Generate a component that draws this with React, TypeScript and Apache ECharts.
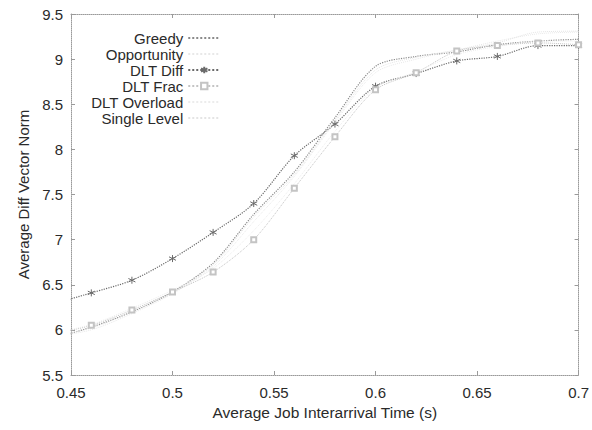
import React, { useEffect, useRef } from "react";
import * as echarts from "echarts";

const xValues = [0.44, 0.46, 0.48, 0.5, 0.52, 0.54, 0.56, 0.58, 0.6, 0.62, 0.64, 0.66, 0.68, 0.7];
const greedy = [5.9, 6.03, 6.2, 6.42, 6.74, 7.28, 7.75, 8.35, 8.92, 9.03, 9.08, 9.16, 9.2, 9.22];
const opportunity = [5.92, 6.0, 6.18, 6.4, 6.7, 7.2, 7.7, 8.3, 8.85, 9.0, 9.1, 9.2, 9.28, 9.3];
const dltDiff = [6.28, 6.41, 6.55, 6.79, 7.08, 7.4, 7.93, 8.28, 8.7, 8.84, 8.98, 9.03, 9.15, 9.15];
const dltFrac = [5.95, 6.05, 6.22, 6.42, 6.64, 7.0, 7.57, 8.14, 8.66, 8.85, 9.09, 9.15, 9.18, 9.16];
const dltOverload = [5.96, 6.06, 6.24, 6.44, 6.68, 7.1, 7.62, 8.2, 8.68, 8.86, 9.05, 9.14, 9.2, 9.2];
const singleLevel = [5.93, 6.02, 6.2, 6.41, 6.72, 7.25, 7.72, 8.32, 8.88, 9.02, 9.1, 9.18, 9.3, 9.31];
const legendNames = ["Greedy", "Opportunity", "DLT Diff", "DLT Frac", "DLT Overload", "Single Level"];
const yTicks = { min: 5.5, max: 9.5, interval: 0.5 };
const xTicks = { min: 0.45, max: 0.7, interval: 0.05 };

const ASTERISK = "path://M0,-5L0,5M-4.5,-2.5L4.5,2.5M-4.5,2.5L4.5,-2.5";

function pairs(ys: number[]) {
  return xValues.map((x, i) => [x, ys[i]]);
}

export default function App() {
  const ref = useRef<HTMLDivElement>(null);
  useEffect(() => {
    if (!ref.current) return;
    const chart = echarts.init(ref.current, undefined, { renderer: "svg" });
    const font = "'Liberation Sans', Arial, sans-serif";
    const txt = "#2a2a2a";
    const fmt = (v: number) => String(+v.toFixed(2));
    const axisLine = { show: true, lineStyle: { color: "#9a9a9a", type: "dotted" as const, width: 1 } };
    const tick = { show: true, inside: true, length: 4, lineStyle: { color: "#9a9a9a" } };
    const colors: Record<string, string> = {
      Greedy: "#8a8a8a",
      Opportunity: "#e8e8e8",
      "DLT Diff": "#6a6a6a",
      "DLT Frac": "#c4c4c4",
      "DLT Overload": "#ececec",
      "Single Level": "#e4e4e4",
    };
    const symbols: Record<string, string> = {
      Greedy: "none",
      Opportunity: "none",
      "DLT Diff": ASTERISK,
      "DLT Frac": "emptyRect",
      "DLT Overload": "none",
      "Single Level": "none",
    };
    const mk = (name: string, data: number[], width = 1) => {
      const color = colors[name];
      const symbol = symbols[name];
      return {
        name,
        type: "line",
        data: pairs(data),
        smooth: 0.3,
        clip: true,
        symbol,
        symbolSize: symbol === ASTERISK ? 7 : 5,
        showSymbol: symbol !== "none",
        lineStyle: { color, width, type: "dotted" },
        itemStyle:
          symbol === ASTERISK
            ? { color: "none", borderColor: color, borderWidth: 1 }
            : { color, borderColor: color },
        emphasis: { disabled: true },
      };
    };
    chart.setOption({
      animation: false,
      textStyle: { fontFamily: font },
      grid: { left: 71, top: 14, right: 13, bottom: 55, containLabel: false },
      legend: {
        orient: "vertical",
        left: 86,
        top: 25,
        align: "right",
        itemGap: 0,
        itemWidth: 32,
        itemHeight: 8,
        textStyle: { fontSize: 15, lineHeight: 16, color: txt, fontFamily: font },
        data: legendNames.map((n) =>
          symbols[n] === "none"
            ? { name: n, itemStyle: { color: "transparent", borderColor: "transparent", opacity: 0 } }
            : { name: n }
        ),
      },
      xAxis: [
        {
          type: "value",
          min: xTicks.min,
          max: xTicks.max,
          interval: xTicks.interval,
          name: "Average Job Interarrival Time (s)",
          nameLocation: "middle",
          nameGap: 29,
          nameTextStyle: { fontSize: 15.5, color: txt },
          axisLine,
          axisTick: tick,
          splitLine: { show: false },
          axisLabel: { fontSize: 15, color: txt, margin: 10, formatter: fmt },
        },
        {
          type: "value",
          position: "top",
          min: xTicks.min,
          max: xTicks.max,
          interval: xTicks.interval,
          axisLine,
          axisTick: tick,
          splitLine: { show: false },
          axisLabel: { show: false },
        },
      ],
      yAxis: [
        {
          type: "value",
          min: yTicks.min,
          max: yTicks.max,
          interval: yTicks.interval,
          name: "Average Diff Vector Norm",
          nameLocation: "middle",
          nameGap: 40,
          nameTextStyle: { fontSize: 15, color: txt },
          axisLine,
          axisTick: tick,
          splitLine: { show: false },
          axisLabel: { fontSize: 15, color: txt, margin: 8, formatter: fmt },
        },
        {
          type: "value",
          position: "right",
          min: yTicks.min,
          max: yTicks.max,
          interval: yTicks.interval,
          axisLine,
          axisTick: tick,
          splitLine: { show: false },
          axisLabel: { show: false },
        },
      ],
      series: [
        mk("Greedy", greedy, 1.2),
        mk("Opportunity", opportunity),
        mk("DLT Diff", dltDiff, 1.2),
        mk("DLT Frac", dltFrac),
        mk("DLT Overload", dltOverload),
        mk("Single Level", singleLevel),
      ],
    });
    return () => chart.dispose();
  }, []);
  return (
    <div
      ref={ref}
      style={{ position: "fixed", left: 0, top: 0, width: 592, height: 430, background: "#fff" }}
    />
  );
}
